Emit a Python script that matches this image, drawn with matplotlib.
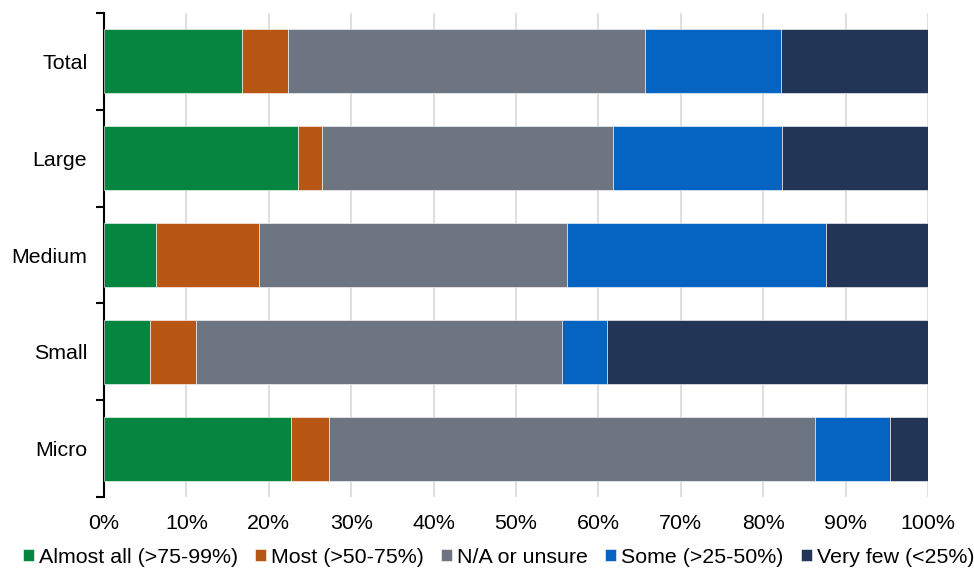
import matplotlib.pyplot as plt
import numpy as np

plt.rcParams['font.family'] = ['Liberation Sans', 'DejaVu Sans']

categories = ['Total', 'Large', 'Medium', 'Small', 'Micro']
series_names = ['Almost all (>75-99%)', 'Most (>50-75%)', 'N/A or unsure',
                'Some (>25-50%)', 'Very few (<25%)']
almost_all = [16.7, 23.5, 6.3, 5.6, 22.7]
most = [5.6, 3.0, 12.5, 5.6, 4.6]
na_unsure = [43.4, 35.3, 37.4, 44.4, 59.0]
some = [16.5, 20.5, 31.4, 5.4, 9.1]
very_few = [17.8, 17.7, 12.4, 39.0, 4.6]
colors = ['#068540', '#B85614', '#6E7582', '#0563C1', '#223556']

fig = plt.figure(figsize=(9.74, 5.79), dpi=100)
ax = fig.add_axes([0.1068, 0.1416, 0.846, 0.8359])

y = np.arange(len(categories))
left = np.zeros(len(categories))
for vals, name, col in zip([almost_all, most, na_unsure, some, very_few], series_names, colors):
    ax.barh(y, vals, left=left, height=0.66, color=col, label=name,
            edgecolor='white', linewidth=0.4, zorder=3)
    left += np.array(vals)

ax.set_xlim(0, 100)
ax.set_ylim(len(categories) - 0.5, -0.5)
ax.set_xticks(np.arange(0, 101, 10))
ax.set_xticklabels([f'{v}%' for v in range(0, 101, 10)])
ax.set_yticks(y)
ax.set_yticklabels(categories)
ax.set_yticks(np.arange(-0.5, len(categories)), minor=True)
ax.tick_params(axis='y', which='major', length=0, pad=12, labelsize=15.4)
ax.tick_params(axis='y', which='minor', length=6, width=1.5, direction='out', color='black')
ax.tick_params(axis='x', length=0, pad=12, labelsize=15.4)
ax.grid(axis='x', color='#d9d9d9', linewidth=1.2, zorder=0)
for s in ['top', 'right', 'bottom']:
    ax.spines[s].set_visible(False)
ax.spines['left'].set_linewidth(1.5)

fig.legend(loc='lower center', bbox_to_anchor=(0.512, -0.012), ncol=5, frameon=False,
           fontsize=15.4, handlelength=0.5, handleheight=0.5, handletextpad=0.25,
           columnspacing=0.8)

fig.savefig('out.png', dpi=100)
